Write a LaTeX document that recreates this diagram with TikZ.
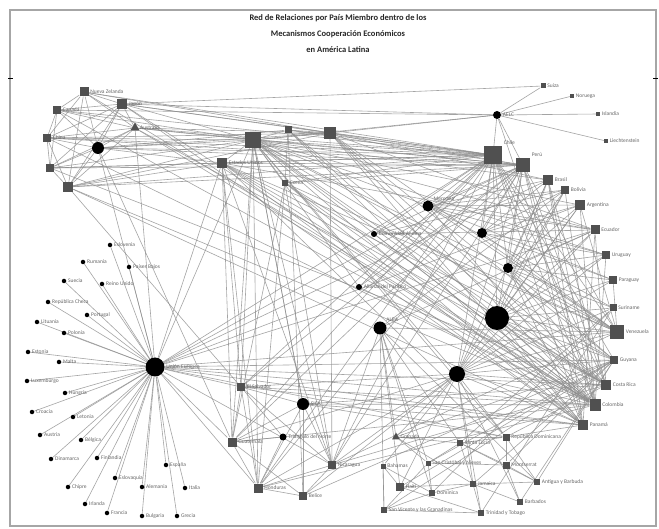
\documentclass[tikz,border=0pt]{standalone}
\usepackage{fontspec}
\setmainfont{Carlito}
\usetikzlibrary{shapes.geometric,backgrounds}
\definecolor{sqc}{HTML}{505050}
\definecolor{labc}{HTML}{666666}
\definecolor{edgec}{HTML}{8E8E8E}
\tikzset{
 sq/.style={rectangle, fill=sqc, draw=none, inner sep=0pt, minimum size=#1},
 tri/.style={regular polygon, regular polygon sides=3, fill=sqc, inner sep=0pt, minimum size=#1},
 mc/.style={circle, fill=black, inner sep=0pt, minimum size=#1},
 dt/.style={circle, fill=black, inner sep=0pt, minimum size=4.5},
 lab/.style={font=\fontsize{5.5}{6}\selectfont, text=labc, inner sep=1.5pt},
 edge/.style={draw=edgec, line width=0.6pt, opacity=0.8},
 ttl/.style={font=\bfseries\fontsize{8.5}{10}\selectfont, text=black!85},
}
\begin{document}
\begin{tikzpicture}[x=1pt,y=-1pt]
\useasboundingbox (0,0) rectangle (659,529);
% title
\node[ttl] (t1) at (338,18) {Red de Relaciones por País Miembro dentro de los};
\node[ttl] (t2l) at (338,34) {Mecanismos Cooperación Económicos};
\node[ttl] (t3l) at (338,50) {en América Latina};
% top-left cluster
\node[sq=9, label={[lab]right:Nueva Zelanda}] (nz) at (84,92) {};
\node[sq=10, label={[lab]right:Japón}] (jp) at (122,104) {};
\node[sq=8, label={[lab]right:Canadá}] (ca) at (57,110) {};
\node[tri=11, label={[lab]right:Australia}] (kr) at (135,128) {};
\node[sq=8, label={[lab]right:China}] (cn) at (47,138) {};
\node[mc=12] (apec) at (98,148) {};
\node[sq=8] (au) at (50,168) {};
\node[sq=10] (tl) at (68,187) {};
% top middle
\node[sq=16] (mx) at (253,140) {};
\node[sq=7] (tm) at (288,130) {};
\node[sq=12] (tr) at (330,133) {};
\node[sq=10, label={[lab]right:Estados Unidos}] (us) at (222,163) {};
\node[sq=6, label={[lab]right:Corea}] (t5) at (285,183) {};
% EFTA
\node[mc=8, label={[lab]right:AELC}] (efta) at (497,115) {};
\node[sq=5, label={[lab]right:Suiza}] (sui) at (543,86) {};
\node[sq=4, label={[lab]right:Noruega}] (nor) at (572,96) {};
\node[sq=4, label={[lab]right:Islandia}] (isl) at (598,114) {};
\node[sq=4, label={[lab]right:Liechtenstein}] (lie) at (606,141) {};
% arc of countries
\node[sq=18, label={[lab]above right:Chile}] (chl) at (493,155) {};
\node[sq=14, label={[lab]above right:Perú}] (per) at (523,165) {};
\node[sq=10, label={[lab]right:Brasil}] (bra) at (548,180) {};
\node[sq=8, label={[lab]right:Bolivia}] (bol) at (565,190) {};
\node[sq=10, label={[lab]right:Argentina}] (arg) at (580,205) {};
\node[sq=9, label={[lab]right:Ecuador}] (ecu) at (595,230) {};
\node[sq=8, label={[lab]right:Uruguay}] (uru) at (606,255) {};
\node[sq=8, label={[lab]right:Paraguay}] (par) at (613,280) {};
\node[sq=7, label={[lab]right:Suriname}] (sur) at (613,308) {};
\node[sq=14, label={[lab]right:Venezuela}] (ven) at (617,332) {};
\node[sq=8, label={[lab]right:Guyana}] (guy) at (614,360) {};
\node[sq=10, label={[lab]right:Costa Rica}] (cri) at (606,385) {};
\node[sq=11, label={[lab]right:Colombia}] (col) at (595,405) {};
\node[sq=10, label={[lab]right:Panamá}] (pan) at (583,425) {};
% mechanisms
\node[mc=11, label={[lab]above right:Mercosur}] (m1) at (428,206) {};
\node[mc=6, label={[lab]right:Comunidad Andina}] (can) at (374,234) {};
\node[mc=10] (m3) at (482,233) {};
\node[mc=10] (m4) at (508,268) {};
\node[mc=6, label={[lab]right:Alianza del Pacífico}] (ap) at (359,287) {};
\node[mc=13, label={[lab]above right:ALBA}] (m6) at (380,328) {};
\node[mc=24] (aladi) at (497,318) {};
\node[mc=16] (m8) at (457,374) {};
\node[mc=12, label={[lab]right:SICA}] (sica) at (303,404) {};
\node[mc=19, label={[lab]right:Unión Europea}] (ue) at (155,367) {};
% Central America and Caribbean
\node[sq=8, label={[lab]right:El Salvador}] (slv) at (241,387) {};
\node[sq=9, label={[lab]right:Guatemala}] (gtm) at (232,442) {};
\node[mc=7, label={[lab]right:Triángulo del Norte}] (tn) at (283,437) {};
\node[sq=8, label={[lab]right:Nicaragua}] (nic) at (332,465) {};
\node[sq=9, label={[lab]right:Honduras}] (hnd) at (258,488) {};
\node[sq=8, label={[lab]right:Belice}] (blz) at (303,496) {};
\node[tri=9, label={[lab]right:Granada}] (grd) at (396,437) {};
\node[sq=5, label={[lab]right:Bahamas}] (bhs) at (383,466) {};
\node[sq=8, label={[lab]right:Haití}] (hti) at (400,487) {};
\node[sq=6, label={[lab]right:San Vicente y las Granadinas}] (sv) at (384,510) {};
\node[sq=5, label={[lab]right:San Cristóbal y Nieves}] (kn) at (428,463) {};
\node[sq=6, label={[lab]right:Dominica}] (dm) at (432,493) {};
\node[sq=6, label={[lab]right:Santa Lucía}] (lca) at (460,443) {};
\node[sq=7, label={[lab]right:República Dominicana}] (rd) at (506,437) {};
\node[sq=7, label={[lab]right:Montserrat}] (ms) at (506,465) {};
\node[sq=6, label={[lab]right:Jamaica}] (jm) at (473,484) {};
\node[sq=6, label={[lab]right:Antigua y Barbuda}] (ag) at (537,482) {};
\node[sq=6, label={[lab]right:Barbados}] (brb) at (520,502) {};
\node[sq=6, label={[lab]right:Trinidad y Tobago}] (tt) at (481,513) {};
% EU members
\foreach \n/\x/\y/\t in {e1/110/245/Eslovenia, e2/83/262/Rumania, e3/129/267/Países Bajos, e4/64/281/Suecia, e5/102/284/Reino Unido, e6/48/302/República Checa, e7/87/315/Portugal, e8/37/322/Lituania, e9/64/333/Polonia, e10/28/352/Estonia, e11/59/362/Malta, e12/27/381/Luxemburgo, e13/65/393/Hungría, e14/32/412/Croacia, e15/73/417/Letonia, e16/40/435/Austria, e17/81/440/Bélgica, e18/51/459/Dinamarca, e19/97/458/Finlandia, e20/166/465/España, e21/115/478/Eslovaquia, e22/68/487/Chipre, e23/142/487/Alemania, e24/185/488/Italia, e25/85/504/Irlanda, e26/107/513/Francia, e27/142/516/Bulgaria, e28/177/516/Grecia}
  \node[dt, label={[lab]right:\t}] (\n) at (\x,\y) {};
% edges
\begin{scope}[on background layer]
\fill[white] (0,0) rectangle (659,529);
\draw[gray!70, line width=1.2pt] (10,10) rectangle (656,526);
\draw[black, line width=0.8pt] (8,78) -- (13,78) (653,78) -- (658,78);
\foreach \a/\b in {
 apec/nz, apec/jp, apec/ca, apec/kr, apec/cn, apec/au, apec/tl, apec/us, apec/mx, apec/tr, apec/chl, apec/per, apec/tm,
 nz/jp, nz/ca, nz/cn, nz/kr, jp/ca, jp/kr, jp/cn, jp/au, ca/cn, ca/kr, ca/au, cn/au, cn/tl, kr/au, kr/tl, au/tl, tl/jp, tl/nz, cn/kr,
 jp/sui, jp/efta, jp/mx, jp/tr, jp/chl, ca/mx, ca/chl, ca/efta, nz/tr, nz/chl, kr/mx, kr/tr, kr/chl, kr/per, cn/mx, cn/chl, cn/per, au/us, au/mx, au/chl, tl/us, tl/mx, tl/tr, tl/chl, tl/per, au/per, cn/tr,
 efta/sui, efta/nor, efta/isl, efta/lie, efta/chl, efta/per, efta/mx, efta/tr, efta/col,
 mx/tm, mx/tr, mx/us, mx/t5, mx/chl, mx/per, mx/bra, mx/arg, mx/col, mx/ven, mx/cri, mx/pan, mx/uru, tm/tr, tm/t5, tm/chl, tm/per, tr/chl, tr/per, tr/bra, tr/col, us/chl, us/per, us/col, us/cri, us/pan, t5/chl, t5/per, t5/col,
 apec/ue, kr/ue, tl/slv, apec/gtm, us/ue, us/slv, t5/gtm, tm/blz, tr/nic, mx/sica, us/hnd,
 mx/rd, mx/nic, mx/hnd, us/rd, us/nic, us/gtm, t5/nic, t5/hnd, t5/cri, tm/col, tm/pan, tr/pan, tr/cri, tr/ven, tr/guy, kr/col, kr/cri, tl/col, tl/pan, jp/col, au/cri, cn/col, us/ven, t5/ven, mx/guy, us/guy, jp/pan, nz/col, ca/col, t5/pan, tm/cri, tr/ecu, mx/ecu, us/ecu,
 ue/ven, ue/guy, ue/bra, ue/arg, ue/rd, slv/chl, slv/per, slv/col, gtm/chl, hnd/chl, nic/chl, nic/per, hnd/per, gtm/per, slv/pan,
 m1/chl, m1/per, m1/bra, m1/bol, m1/arg, m1/ecu, m1/uru, m1/par, m1/ven, m1/col, m1/mx, m1/sur,
 can/per, can/bol, can/ecu, can/col, can/chl,
 m3/chl, m3/per, m3/bra, m3/arg, m3/uru, m3/par, m3/ven, m3/bol,
 m4/chl, m4/per, m4/bra, m4/bol, m4/arg, m4/ecu, m4/uru, m4/par, m4/ven, m4/col, m4/cri, m4/pan, m4/mx, m4/sur, m4/guy,
 ap/chl, ap/per, ap/col, ap/mx,
 m6/ven, m6/bol, m6/ecu, m6/nic, m6/ag, m6/dm, m6/lca, m6/sv, m6/kn, m6/grd, m6/hti,
 aladi/chl, aladi/per, aladi/bra, aladi/bol, aladi/arg, aladi/ecu, aladi/uru, aladi/par, aladi/ven, aladi/col, aladi/pan, aladi/mx, aladi/cri, aladi/guy, aladi/sur,
 m8/chl, m8/per, m8/bra, m8/bol, m8/arg, m8/ecu, m8/uru, m8/par, m8/sur, m8/ven, m8/guy, m8/cri, m8/col, m8/pan, m8/mx, m8/slv, m8/gtm, m8/hnd, m8/nic, m8/bhs, m8/brb, m8/blz, m8/hti, m8/jm, m8/tt, m8/rd, m8/grd,
 sica/slv, sica/gtm, sica/hnd, sica/nic, sica/cri, sica/pan, sica/blz, sica/rd, sica/mx, sica/col,
 slv/gtm, slv/tn, slv/hnd, slv/nic, gtm/tn, gtm/hnd, gtm/blz, tn/hnd, nic/hnd, nic/blz, hnd/blz, gtm/mx, gtm/col, hnd/col, slv/mx, nic/ven, nic/cri,
 grd/kn, grd/lca, grd/rd, grd/jm, bhs/hti, bhs/sv, bhs/dm, kn/dm, kn/sv, kn/lca, kn/ms, lca/rd, lca/ms, lca/jm, lca/ag, jm/tt, jm/brb, jm/ag, jm/dm, ms/ag, ms/brb, sv/tt, sv/dm, hti/tt, hti/jm, rd/ms, rd/ag,
 grd/guy, kn/guy, lca/sur, jm/guy, brb/guy, tt/sur, ag/guy, dm/sur, hti/guy, sv/guy, ms/guy, blz/guy, rd/pan, rd/cri,
 chl/ven, chl/guy, chl/cri, chl/col, chl/pan, per/ven, per/cri, per/col, per/pan, bra/pan, bra/col, bra/cri, arg/col, arg/ven, ecu/pan, bol/col, uru/col, par/ven, ecu/cri,
 ue/mx, ue/chl, ue/per, ue/col, ue/ecu, ue/slv, ue/gtm, ue/hnd, ue/nic, ue/cri, ue/pan,
 ue/e1, ue/e2, ue/e3, ue/e4, ue/e5, ue/e6, ue/e7, ue/e8, ue/e9, ue/e10, ue/e11, ue/e12, ue/e13, ue/e14, ue/e15, ue/e16, ue/e17, ue/e18, ue/e19, ue/e20, ue/e21, ue/e22, ue/e23, ue/e24, ue/e25, ue/e26, ue/e27, ue/e28}
  \draw[edge] (\a) -- (\b);
\end{scope}
\end{tikzpicture}
\end{document}
